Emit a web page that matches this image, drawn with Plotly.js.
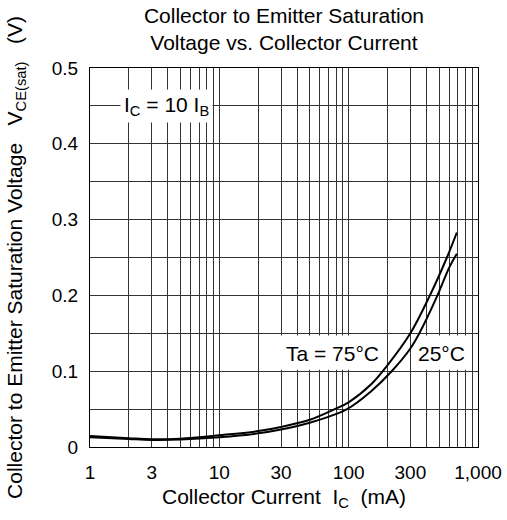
<!DOCTYPE html>
<html>
<head>
<meta charset="utf-8">
<script src="https://cdn.plot.ly/plotly-3.0.1.min.js"></script>
<style>html,body{margin:0;padding:0;background:#fff}#chart{width:507px;height:520px}</style>
</head>
<body>
<div id="chart"></div>
<script>
// Collector current (mA) and saturation voltage (V)
const icTa75 = [1, 2, 3, 5, 10, 20, 30, 50, 78, 100, 150, 200, 300, 425, 575, 686];
const vceTa75 = [0.0145, 0.0115, 0.0102, 0.011, 0.0155, 0.021, 0.0265, 0.036, 0.05, 0.059, 0.083, 0.108, 0.15, 0.2, 0.25, 0.283];
const icTa25 = [1, 2, 3, 5, 10, 20, 30, 50, 97, 150, 215, 300, 352, 486, 600, 686];
const vceTa25 = [0.013, 0.0105, 0.0093, 0.0098, 0.0128, 0.018, 0.023, 0.032, 0.05, 0.074, 0.1, 0.13, 0.15, 0.2, 0.237, 0.255];

// Tick labels and grid positions
const xTickVals = [1, 3, 10, 30, 100, 300, 1000];
const xTickText = ['1', '3', '10', '30', '100', '300', '1,000'];
const xMinorGrid = [2,4,5,6,7,8,9,20,40,50,60,70,80,90,200,400,500,600,700,800,900];
const yTickVals = [0, 0.1, 0.2, 0.3, 0.4, 0.5];
const yTickText = ['0', '0.1', '0.2', '0.3', '0.4', '0.5'];
const yMinorGrid = [0.05, 0.15, 0.25, 0.35, 0.45];

const FONT = 'Liberation Sans, Arial, Helvetica, sans-serif';
const NB = '\u00a0\u00a0\u00a0';
const line = {color: '#000', width: 2, shape: 'spline', smoothing: 1};

// white label backgrounds (drawn above the grid, below the curves)
function labelBox(xa, xb, ya, yb) {
  return {x: [xa, xb, xb, xa, xa], y: [ya, ya, yb, yb, ya], mode: 'lines', fill: 'toself',
          fillcolor: '#fff', line: {width: 0, color: 'rgba(0,0,0,0)'}, hoverinfo: 'skip', showlegend: false};
}

const traces = [
  labelBox(29.4, 194, 0.102, 0.147),
  labelBox(309, 861, 0.102, 0.147),
  {x: icTa75, y: vceTa75, mode: 'lines', line: line, name: 'Ta = 75°C', hoverinfo: 'skip'},
  {x: icTa25, y: vceTa25, mode: 'lines', line: line, name: '25°C', hoverinfo: 'skip'}
];

const axisCommon = {
  showline: true, linecolor: '#000', linewidth: 1, mirror: true,
  showgrid: true, gridcolor: '#333', gridwidth: 1,
  zeroline: false, ticks: '', tickfont: {family: FONT, size: 19, color: '#000'},
  tickmode: 'array', fixedrange: true
};

const layout = {
  width: 507, height: 520,
  margin: {l: 90, r: 29, t: 68, b: 73, pad: 0},
  paper_bgcolor: '#fff', plot_bgcolor: '#fff',
  showlegend: false,
  font: {family: FONT, color: '#000'},
  title: {
    text: 'Collector to Emitter Saturation<br>Voltage vs. Collector Current',
    font: {family: FONT, size: 21, color: '#000'},
    x: 0.5, xref: 'paper', xanchor: 'center',
    y: 1 - 23 / 520, yref: 'container', yanchor: 'middle'
  },
  xaxis: Object.assign({}, axisCommon, {
    type: 'log', range: [0, 3],
    tickvals: xTickVals, ticktext: xTickText,
    minor: {tickmode: 'array', tickvals: xMinorGrid, showgrid: true, gridcolor: '#333', gridwidth: 1, ticks: ''},
    ticklabelstandoff: 8,
    title: {text: 'Collector Current\u00a0\u00a0I<sub>C</sub>\u00a0\u00a0(mA)', font: {family: FONT, size: 21, color: '#000'}, standoff: 7}
  }),
  yaxis: Object.assign({}, axisCommon, {
    range: [0, 0.5],
    tickvals: yTickVals, ticktext: yTickText,
    minor: {tickmode: 'array', tickvals: yMinorGrid, showgrid: true, gridcolor: '#333', gridwidth: 1, ticks: ''},
    ticklabelstandoff: 7,
    title: {text: 'Collector to Emitter Saturation Voltage' + NB + 'V<sub>CE(sat)</sub>' + NB + '(V)', font: {family: FONT, size: 21, color: '#000'}, standoff: 23}
  }),
  annotations: [
    {xref: 'x', yref: 'y', x: 0.588, y: 0.45, text: 'I<sub>C</sub> = 10 I<sub>B</sub>', showarrow: false,
     font: {family: FONT, size: 21, color: '#000'}, bgcolor: '#fff', borderpad: 3, xanchor: 'center', yanchor: 'middle'},
    {xref: 'x', yref: 'y', x: 1.8755, y: 0.124, text: 'Ta = 75°C', showarrow: false,
     font: {family: FONT, size: 21, color: '#000'}, xanchor: 'center', yanchor: 'middle'},
    {xref: 'x', yref: 'y', x: 2.718, y: 0.124, text: '25°C', showarrow: false,
     font: {family: FONT, size: 21, color: '#000'}, xanchor: 'center', yanchor: 'middle'}
  ]
};

Plotly.newPlot('chart', traces, layout, {staticPlot: true, displayModeBar: false});
</script>
</body>
</html>
